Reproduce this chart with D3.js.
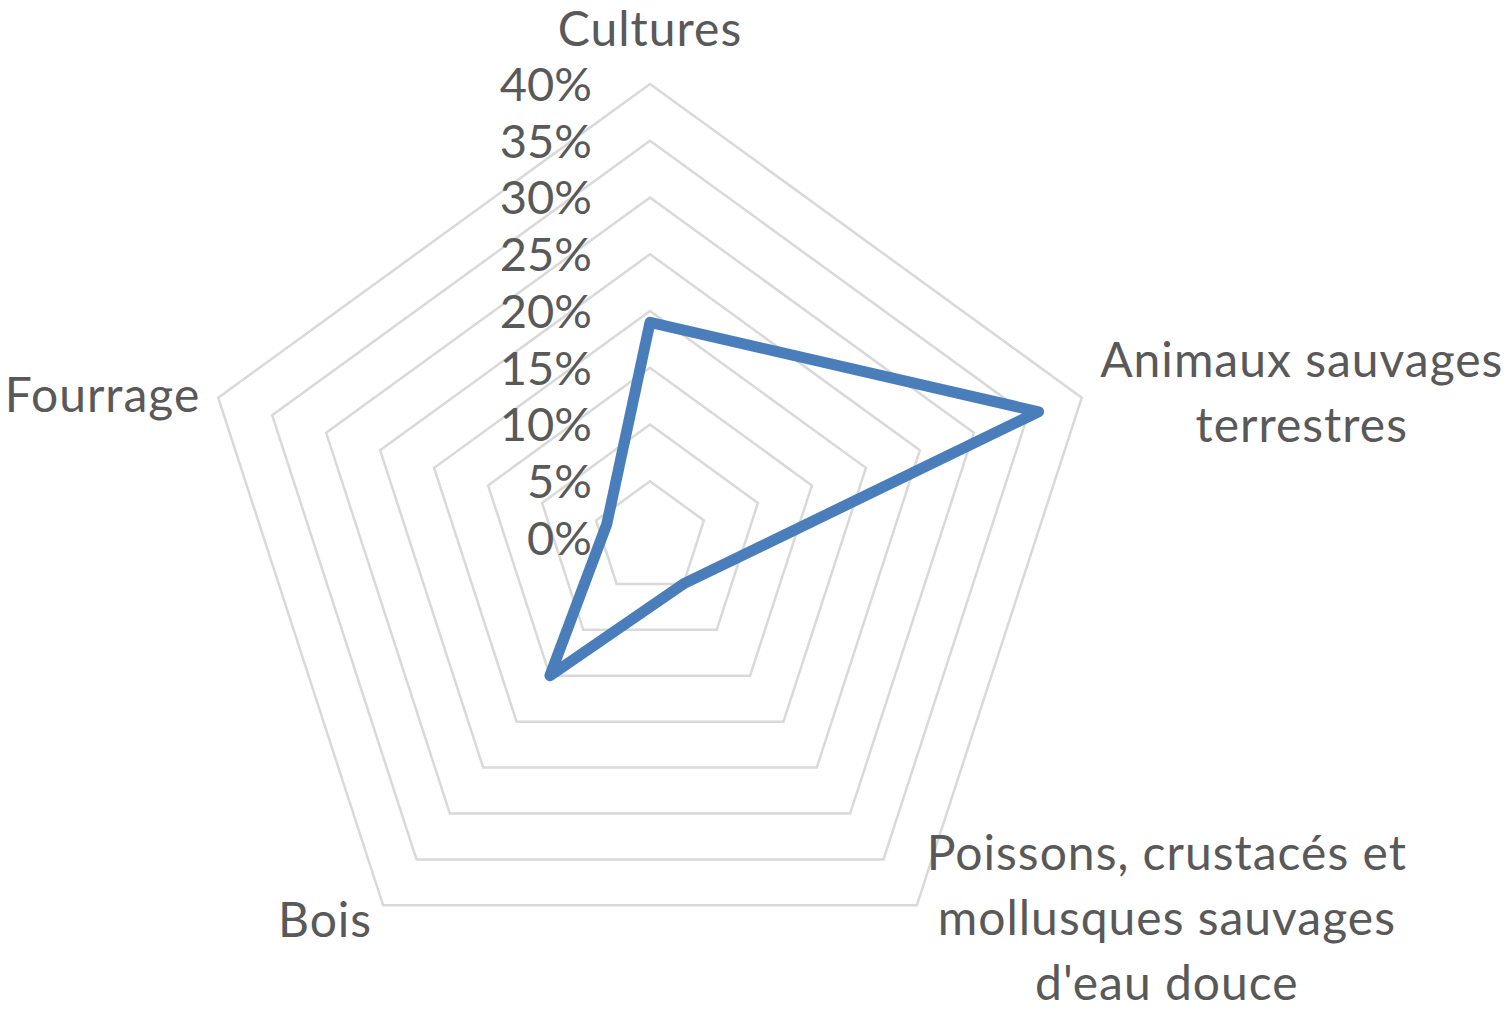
<!DOCTYPE html>
<html>
<head>
<meta charset="utf-8">
<script src="https://cdn.jsdelivr.net/npm/d3@7"></script>
<style>
  html, body { margin: 0; padding: 0; background: #ffffff; }
  svg { display: block; }
  text { font-family: Lato, "Open Sans", sans-serif; fill: #595959; }
</style>
</head>
<body>
<svg id="chart" width="1507" height="1010"></svg>
<script>
// Categories (axes of the radar), clockwise from the top
const categories = [
  ["Cultures"],
  ["Animaux sauvages", "terrestres"],
  ["Poissons, crustacés et", "mollusques sauvages", "d'eau douce"],
  ["Bois"],
  ["Fourrage"]
];

// Share for each category
const values = [0.19, 0.36, 0.05, 0.15, 0.04];

// Radial axis ticks
const tickValues = [0, 0.05, 0.10, 0.15, 0.20, 0.25, 0.30, 0.35, 0.40];
const tickLabels = ["0%", "5%", "10%", "15%", "20%", "25%", "30%", "35%", "40%"];

// Placement of each category label relative to its outer vertex
const labelLayout = [
  { anchor: "middle", dx: 0,   dy: -38 },
  { anchor: "middle", dx: 220, dy: -21 },
  { anchor: "middle", dx: 250, dy: -35 },
  { anchor: "end",    dx: -11, dy: 32 },
  { anchor: "end",    dx: -18, dy: 14 }
];

const svg = d3.select("#chart");
const cx = 650, cy = 538, R = 454;
const labelSize = 48, tickSize = 47, lineHeight = 65;

const r = d3.scaleLinear().domain([0, 0.40]).range([0, R]);
const angle = d3.scalePoint()
  .domain(d3.range(categories.length))
  .range([0, 2 * Math.PI * (categories.length - 1) / categories.length]);

const g = svg.append("g").attr("transform", `translate(${cx},${cy})`);

// Concentric pentagon gridlines
const ring = d3.lineRadial().curve(d3.curveLinearClosed);
g.append("g").selectAll("path")
  .data(tickValues.filter(v => v > 0))
  .join("path")
  .attr("d", v => ring(categories.map((c, i) => [angle(i), r(v)])))
  .attr("fill", "none")
  .attr("stroke", "#d9d9d9")
  .attr("stroke-width", 2.5);

// Radial tick labels, to the left of the top axis
g.append("g").selectAll("text")
  .data(tickValues)
  .join("text")
  .attr("x", -58)
  .attr("y", v => -r(v) + tickSize * 0.36)
  .attr("text-anchor", "end")
  .attr("font-size", tickSize)
  .text((v, i) => tickLabels[i]);

// Data series
const series = d3.lineRadial().curve(d3.curveLinearClosed);
g.append("path")
  .attr("d", series(values.map((v, i) => [angle(i), r(v)])))
  .attr("fill", "none")
  .attr("stroke", "#4a7ebb")
  .attr("stroke-width", 11)
  .attr("stroke-linejoin", "round");

// Category labels
const outer = r(0.40);
categories.forEach((lines, i) => {
  const a = angle(i);
  const vx = outer * Math.sin(a), vy = -outer * Math.cos(a);
  const L = labelLayout[i];
  const t = g.append("text")
    .attr("text-anchor", L.anchor)
    .attr("font-size", labelSize)
    .attr("letter-spacing", 1);
  lines.forEach((s, k) => {
    t.append("tspan")
      .attr("x", vx + L.dx)
      .attr("y", vy + L.dy + k * lineHeight)
      .text(s);
  });
});
</script>
</body>
</html>
